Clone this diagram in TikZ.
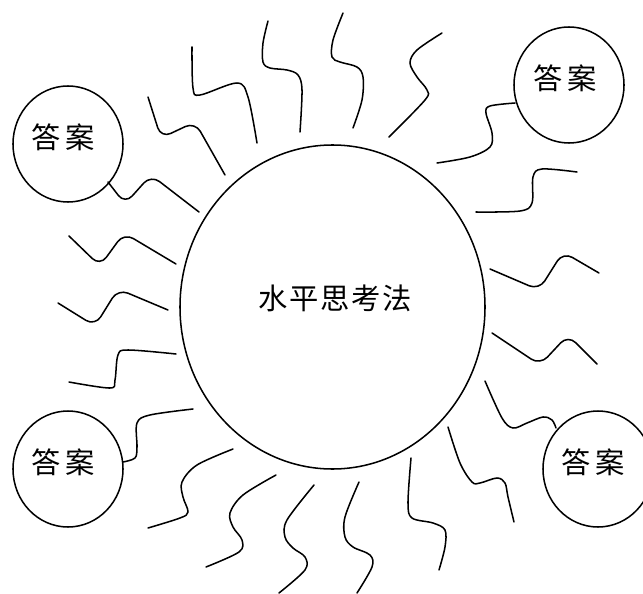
\documentclass[tikz,border=0pt]{standalone}
\usepackage{fontspec}
\newfontfamily\cjk{Noto Sans CJK SC}
\usetikzlibrary{shapes.geometric}
\tikzset{
  ring/.style={draw, ellipse, line width=1.3pt, inner sep=0pt},
  bigring/.style={ring, minimum width=9.15cm, minimum height=9.72cm},
  ansring/.style={ring, minimum width=3.3cm, minimum height=3.48cm},
  txt/.style={font=\cjk\fontsize{25}{30}\selectfont, inner sep=0pt},
  wave/.style={line width=1.3pt, smooth, tension=0.55, line cap=round},
  zig/.style={line width=1.3pt, rounded corners=0.32cm, line cap=round}
}
\begin{document}
\begin{tikzpicture}[x=0.03cm, y=-0.03cm]
\useasboundingbox (0,0) rectangle (643,594);
\clip (0,0) rectangle (643,594);
% circles
\node[bigring] (main) at (332.5,307) {};
\node[txt] (maintxt) at (335,298) {水\hspace{1.5pt}平\hspace{1.5pt}思\hspace{1.5pt}考\hspace{1.5pt}法};
\node[ansring] (a1) at (68,144) {};
\node[txt] (t1) at (63,137) {答\hspace{4pt}案};
\node[ansring] (a2) at (569,85) {};
\node[txt] (t2) at (565,78) {答\hspace{4pt}案};
\node[ansring] (a3) at (68,469) {};
\node[txt] (t3) at (63,462) {答\hspace{4pt}案};
\node[ansring] (a4) at (598,469) {};
\node[txt] (t4) at (593,462) {答\hspace{4pt}案};
% zigzag waves
\draw[zig] (148,97) -- (161,138) -- (195,122) -- (225,175);
\draw[zig] (108,182) -- (125,204) -- (151,175) -- (199,212);
\draw[zig] (69,236) -- (100,266) -- (124,233) -- (176,264);
\draw[zig] (58,303) -- (95,326) -- (118,289) -- (168,310);
\draw[zig] (492,333) -- (540,365) -- (568,335) -- (597,364);
\draw[zig] (490,269) -- (539,290) -- (563,252) -- (599,273);
% S-shaped waves
\draw[wave] plot coordinates {(192,47) (193,88) (200,95) (237,83) (248,97) (257,143)};
\draw[wave] plot coordinates {(268,21) (263,43) (263,62) (270,68) (287,70) (298,75) (302,90) (300,132)};
\draw[wave] plot coordinates {(343,13) (333,40) (332,57) (340,62) (357,67) (363,77) (362,100) (353,128)};
\draw[wave] plot coordinates {(442,33) (417,50) (410,63) (417,77) (427,90) (425,100) (389,137)};
\draw[wave] plot coordinates {(437,163) (470,157) (490,147) (492,133) (486,113) (490,106) (515,103)};
\draw[wave] plot coordinates {(476,212) (520,211) (532,203) (533,177) (542,169) (577,172)};
\draw[wave] plot coordinates {(485,381) (502,418) (513,428) (527,423) (543,417) (552,420) (556,428)};
\draw[wave] plot coordinates {(448,427) (460,463) (472,482) (480,483) (497,478) (505,483) (508,497) (514,522)};
\draw[wave] plot coordinates {(411,458) (408,503) (412,518) (433,523) (445,530) (445,547) (439,570)};
\draw[wave] plot coordinates {(359,482) (345,517) (345,537) (353,547) (370,555) (372,567) (357,593)};
\draw[wave] plot coordinates {(314,485) (287,520) (285,537) (293,548) (305,557) (305,570) (279,593)};
\draw[wave] plot coordinates {(276,475) (243,495) (230,513) (233,527) (242,540) (239,552) (206,567)};
\draw[wave] plot coordinates {(233,449) (197,465) (182,482) (183,497) (188,512) (180,518) (148,528)};
\draw[wave] plot coordinates {(193,409) (150,415) (137,423) (137,447) (135,458) (123,462)};
\draw[wave] plot coordinates {(176,354) (128,350) (118,355) (115,380) (110,388) (69,382)};
\end{tikzpicture}
\end{document}
